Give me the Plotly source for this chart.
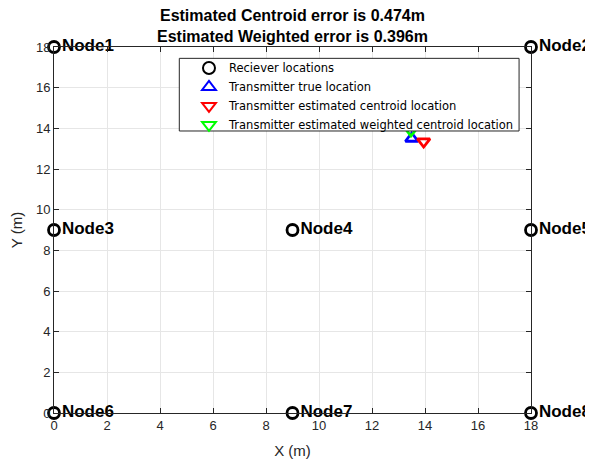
import plotly.graph_objects as go

node_names = ["Node1", "Node2", "Node3", "Node4", "Node5", "Node6", "Node7", "Node8"]
node_x = [0, 18, 0, 9, 18, 0, 9, 18]
node_y = [18, 18, 9, 9, 9, 0, 0, 0]

true_x = [13.5]
true_y = [13.5]
cent_x = [13.95]
cent_y = [13.35]
wcent_x = [13.47]
wcent_y = [13.89]

title_lines = ["Estimated Centroid error is 0.474m", "Estimated Weighted error is 0.396m"]
tick_vals = list(range(0, 19, 2))

FONT = "Liberation Sans, Arial"

fig = go.Figure()
fig.add_trace(go.Scatter(
    x=node_x, y=node_y, mode="markers+text", name="Reciever locations",
    text=node_names, textposition="middle right",
    textfont=dict(family=FONT, size=17, color="black", weight="bold"),
    marker=dict(symbol="circle-open", size=11, color="black", line=dict(width=2.8)),
    cliponaxis=False,
))
fig.add_trace(go.Scatter(
    x=true_x, y=true_y, mode="markers", name="Transmitter true location",
    marker=dict(symbol="triangle-up-open", size=11, color="blue", line=dict(width=2.8)),
    cliponaxis=False,
))
fig.add_trace(go.Scatter(
    x=cent_x, y=cent_y, mode="markers", name="Transmitter estimated centroid location",
    marker=dict(symbol="triangle-down-open", size=11, color="red", line=dict(width=2.8)),
    cliponaxis=False,
))
fig.add_trace(go.Scatter(
    x=wcent_x, y=wcent_y, mode="markers", name="Transmitter estimated weighted centroid location",
    marker=dict(symbol="triangle-down-open", size=11, color="#00ff00", line=dict(width=2.8)),
    cliponaxis=False,
))

axis_common = dict(
    tickvals=tick_vals, showgrid=True, gridcolor="#e6e6e6", gridwidth=1,
    zeroline=False, showline=True, linecolor="#262626", linewidth=1, mirror="ticks",
    ticks="inside", ticklen=5, tickcolor="#262626", automargin=False,
    tickfont=dict(family=FONT, size=13, color="#262626"),
)

fig.update_layout(
    width=593, height=462,
    paper_bgcolor="white", plot_bgcolor="white",
    margin=dict(l=46, r=70, t=39, b=57),
    annotations=[dict(
        text="<br>".join(title_lines), x=0.5, xref="paper", y=1, yref="paper",
        xanchor="center", yanchor="bottom", yshift=0, showarrow=False,
        font=dict(family=FONT, size=16, color="black", weight="bold"),
    )],
    shapes=[dict(
        type="rect", xref="paper", yref="paper",
        x0=0.2627, x1=0.975, y0=0.7705, y1=0.969,
        fillcolor="white", line=dict(color="#262626", width=1), layer="above",
    )],
    xaxis=dict(range=[0, 18], title=dict(text="X (m)", standoff=13,
               font=dict(family=FONT, size=15, color="#262626")), **axis_common),
    yaxis=dict(range=[0, 18], title=dict(text="Y (m)", standoff=10,
               font=dict(family=FONT, size=15, color="#262626")), **axis_common),
    legend=dict(
        x=0.283, y=0.8648, xanchor="left", yanchor="middle",
        borderwidth=0, bgcolor="rgba(0,0,0,0)",
        font=dict(family="DejaVu Sans", size=11.5, color="black"),
        tracegroupgap=0, itemsizing="constant",
    ),
    showlegend=True,
)

fig.write_html("out.html")
